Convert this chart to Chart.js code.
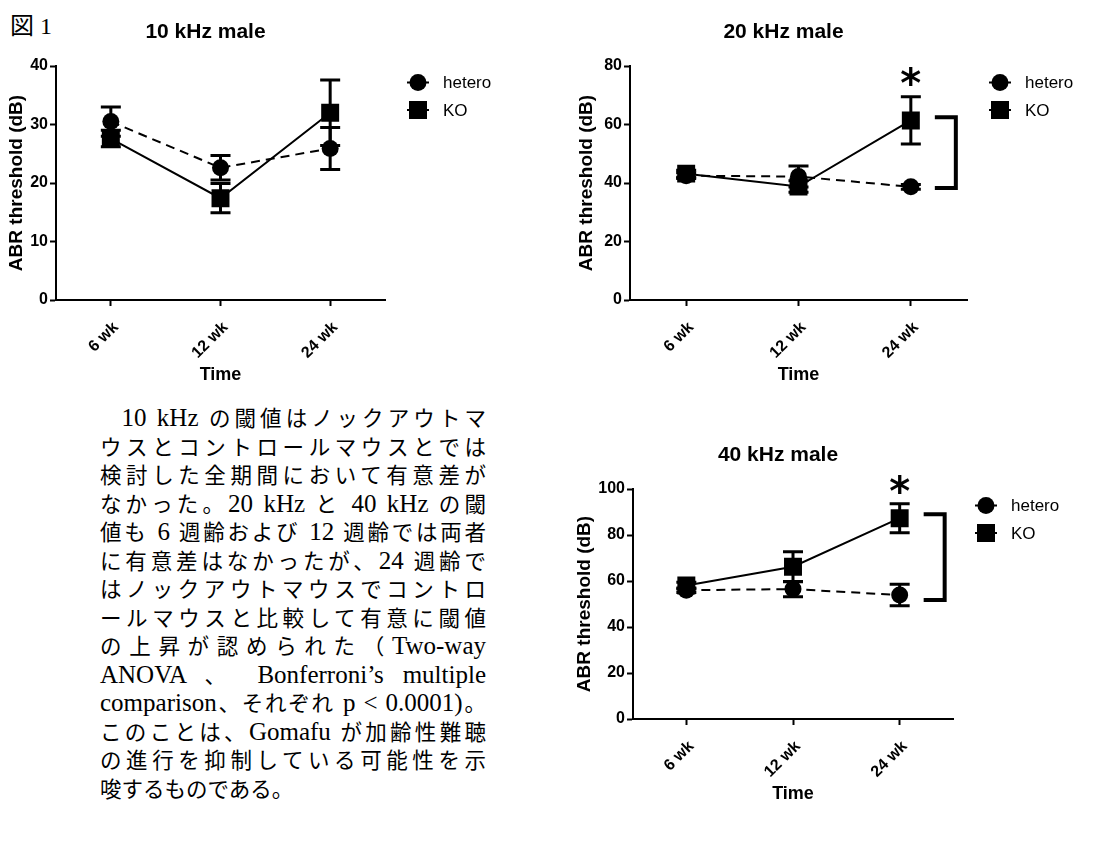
<!DOCTYPE html>
<html>
<head>
<meta charset="utf-8">
<script src="https://cdn.jsdelivr.net/npm/chart.js"></script>
<style>
  body { margin: 0; background: #fff; }
  #page { position: relative; width: 1104px; height: 846px; overflow: hidden; }
  canvas { position: absolute; }
  #fig { position: absolute; left: 10px; top: 6px; font: 24px "Liberation Serif", "Noto Sans CJK JP", serif; color: #000; }
  #note { position: absolute; left: 100px; top: 403px; width: 386px; color: #000;
          font-family: "Noto Sans CJK JP", sans-serif; font-size: 21.5px; line-height: 28.5px; }
  #note div { text-align: justify; text-align-last: justify; white-space: nowrap; height: 28.5px; }
  #note div.last { text-align-last: left; }
  #note .l { font-family: "Liberation Serif", serif; font-size: 25px; }
</style>
</head>
<body>
<div id="page">
  <div id="fig">図 1</div>
  <canvas id="c10" width="540" height="390" style="left:0;top:0"></canvas>
  <canvas id="c20" width="544" height="390" style="left:560px;top:0"></canvas>
  <canvas id="c40" width="564" height="390" style="left:540px;top:420px"></canvas>
  <div id="note">
    <div>&emsp;<span class="l">10 kHz </span>の閾値はノックアウトマ</div>
    <div>ウスとコントロールマウスとでは</div>
    <div>検討した全期間において有意差が</div>
    <div>なかった。<span class="l">20 kHz </span>と<span class="l"> 40 kHz </span>の閾</div>
    <div>値も<span class="l"> 6 </span>週齢および<span class="l"> 12 </span>週齢では両者</div>
    <div>に有意差はなかったが、<span class="l">24 </span>週齢で</div>
    <div>はノックアウトマウスでコントロ</div>
    <div>ールマウスと比較して有意に閾値</div>
    <div>の上昇が認められた（<span class="l">Two-way</span></div>
    <div><span class="l">ANOVA </span>、<span class="l"> Bonferroni’s multiple</span></div>
    <div><span class="l">comparison</span>、それぞれ<span class="l"> p &lt; 0.0001)</span>。</div>
    <div>このことは、<span class="l">Gomafu </span>が加齢性難聴</div>
    <div>の進行を抑制している可能性を示</div>
    <div class="last">唆するものである。</div>
  </div>
</div>

<script>
// time points
const weeks = ['6 wk', '12 wk', '24 wk'];

// 10 kHz
const het10 = [30.5, 22.6, 25.9];
const het10Err = [2.5, 2.1, 3.6];
const ko10 = [27.6, 17.4, 32.0];
const ko10Err = [1.4, 2.5, 5.6];

// 20 kHz
const het20 = [42.5, 42.2, 38.7];
const het20Err = [1.0, 3.6, 0.8];
const ko20 = [43.2, 38.8, 61.4];
const ko20Err = [1.2, 2.0, 8.1];

// 40 kHz
const het40 = [56.0, 56.5, 53.9];
const het40Err = [1.0, 3.3, 4.7];
const ko40 = [58.0, 66.2, 87.3];
const ko40Err = [1.5, 6.5, 6.3];

// significance marks: [value of star, bracket top, bracket bottom]
const sig20 = [77, 62.5, 38.3];
const sig40 = [102.6, 89, 51.7];

Chart.defaults.font.family = '"Liberation Sans", Arial, sans-serif';
Chart.defaults.color = '#000';

// error bars, title, legend, star and bracket
const decor = {
  id: 'decor',
  afterDatasetsDraw(chart) {
    const {ctx, scales: {x, y}} = chart;
    ctx.save();
    ctx.strokeStyle = '#000';
    ctx.lineWidth = 3;
    chart.data.datasets.forEach(ds => {
      ds.data.forEach((v, i) => {
        const px = x.getPixelForValue(i);
        const top = y.getPixelForValue(v + ds.err[i]);
        const bot = y.getPixelForValue(v - ds.err[i]);
        ctx.beginPath();
        ctx.moveTo(px, top); ctx.lineTo(px, bot);
        ctx.moveTo(px - 10, top); ctx.lineTo(px + 10, top);
        ctx.moveTo(px - 10, bot); ctx.lineTo(px + 10, bot);
        ctx.stroke();
      });
    });
    ctx.restore();
  },
  afterDraw(chart, args, opts) {
    const {ctx, chartArea: a, scales: {x, y}} = chart;
    ctx.save();
    // title
    ctx.fillStyle = '#000';
    ctx.font = 'bold 21px "Liberation Sans", Arial, sans-serif';
    ctx.textAlign = 'center';
    ctx.textBaseline = 'middle';
    ctx.fillText(opts.title, (a.left + a.right) / 2 - 15, a.top - 34);

    // legend
    chart.data.datasets.forEach((ds, k) => {
      const cx = a.right + 33, cy = a.top + 16.5 + k * 27.5;
      ctx.strokeStyle = '#000';
      ctx.lineWidth = 2;
      ctx.beginPath();
      ctx.moveTo(cx - 11, cy); ctx.lineTo(cx + 11, cy);
      ctx.stroke();
      ctx.beginPath();
      if (ds.pointStyle === 'circle') {
        ctx.arc(cx, cy, 8.5, 0, Math.PI * 2);
      } else {
        ctx.rect(cx - 9, cy - 9, 18, 18);
      }
      ctx.fill();
      ctx.font = '17px "Liberation Sans", Arial, sans-serif';
      ctx.textAlign = 'left';
      ctx.fillText(ds.label, cx + 25, cy + 1);
    });

    // star + bracket on the last time point
    if (opts.sig) {
      const px = x.getPixelForValue(2);
      ctx.font = 'bold 40px "DejaVu Sans", sans-serif';
      ctx.textAlign = 'center';
      ctx.textBaseline = 'alphabetic';
      ctx.fillText('*', px, y.getPixelForValue(opts.sig[0]) + 22);
      const t = y.getPixelForValue(opts.sig[1]);
      const b = y.getPixelForValue(opts.sig[2]);
      ctx.lineWidth = 4;
      ctx.beginPath();
      ctx.moveTo(px + 24, t); ctx.lineTo(px + 45, t);
      ctx.lineTo(px + 45, b); ctx.lineTo(px + 24, b);
      ctx.stroke();
    }
    ctx.restore();
  }
};

function makeChart(id, title, het, hetErr, ko, koErr, yMax, yStep, sig, box) {
  return new Chart(document.getElementById(id), {
    type: 'line',
    data: {
      labels: weeks,
      datasets: [
        { label: 'hetero', data: het, err: hetErr, borderColor: '#000', backgroundColor: '#000',
          borderWidth: 2, borderDash: [9, 6], pointStyle: 'circle', pointRadius: 8.5,
          pointBorderWidth: 0, tension: 0 },
        { label: 'KO', data: ko, err: koErr, borderColor: '#000', backgroundColor: '#000',
          borderWidth: 2, pointStyle: 'rect', pointRadius: 12.7,
          pointBorderWidth: 0, tension: 0 }
      ]
    },
    options: {
      responsive: false,
      animation: false,
      layout: { padding: { left: 0, top: box.top, right: box.right, bottom: 0 } },
      plugins: {
        legend: { display: false },
        tooltip: { enabled: false },
        decor: { title: title, sig: sig }
      },
      scales: {
        x: {
          type: 'category',
          offset: true,
          border: { display: true, color: '#000', width: 2 },
          grid: { drawOnChartArea: false, drawTicks: true, tickLength: 6, tickWidth: 2, tickColor: '#000' },
          ticks: { minRotation: 45, maxRotation: 45, padding: 12, labelOffset: 5,
                   font: { size: 16, weight: 'bold' } },
          title: { display: true, text: 'Time', font: { size: 18, weight: 'bold' }, padding: { bottom: box.timePad } },
          afterFit(s) { s.height = box.xh; }
        },
        y: {
          min: 0, max: yMax,
          border: { display: true, color: '#000', width: 2 },
          grid: { drawOnChartArea: false, drawTicks: true, tickLength: 6, tickWidth: 2, tickColor: '#000' },
          ticks: { stepSize: yStep, padding: 2, font: { size: 16, weight: 'bold' } },
          title: { display: true, text: 'ABR threshold (dB)', font: { size: 19, weight: 'bold' },
                   padding: { top: box.titlePad } },
          afterFit(s) { s.width = box.yw; }
        }
      }
    },
    plugins: [decor]
  });
}

makeChart('c10', '10 kHz male', het10, het10Err, ko10, ko10Err, 40, 10, null,
  { top: 66, right: 155, xh: 90, yw: 56, timePad: 4, titlePad: 5 });
makeChart('c20', '20 kHz male', het20, het20Err, ko20, ko20Err, 80, 20, sig20,
  { top: 66, right: 137, xh: 90, yw: 70, timePad: 4, titlePad: 15 });
makeChart('c40', '40 kHz male', het40, het40Err, ko40, ko40Err, 100, 20, sig40,
  { top: 69, right: 151, xh: 91, yw: 93, timePad: 5, titlePad: 33 });
</script>
</body>
</html>
